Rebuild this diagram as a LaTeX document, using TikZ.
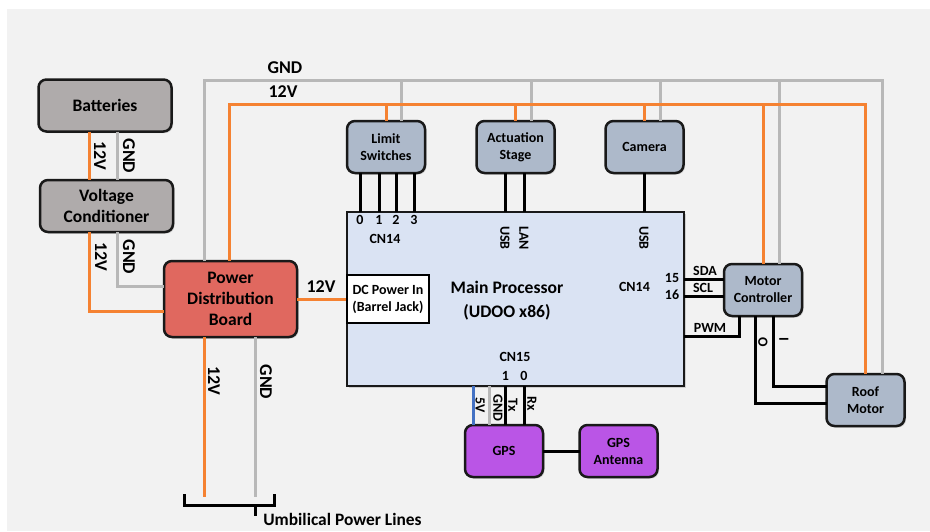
\documentclass[tikz,border=0pt]{standalone}
\usepackage{fontspec}
\setmainfont{Carlito}
\usetikzlibrary{positioning,shadows}

\definecolor{pagegray}{HTML}{F2F2F2}
\definecolor{batgray}{HTML}{AFABAB}
\definecolor{pdbred}{HTML}{E0685F}
\definecolor{nodeblue}{HTML}{ADB9CA}
\definecolor{mainblue}{HTML}{DAE3F3}
\definecolor{gpspurple}{HTML}{BA55E6}
\definecolor{vorange}{HTML}{F58232}
\definecolor{gndgray}{HTML}{B8B8B8}
\definecolor{fivevblue}{HTML}{4472C4}

\begin{document}
\begin{tikzpicture}
[
  x=1pt,
  y=-1pt,
  on grid,
  font=\bfseries\fontsize{14}{17}\selectfont,
  box/.style={draw=black!90, line width=2.5pt, rounded corners=8pt, align=center, inner sep=0pt, outer sep=0pt,
    drop shadow={shadow xshift=1.5pt, shadow yshift=-1.5pt, opacity=0.3}},
  lowbox/.style={box, fill=batgray, minimum width=133pt, minimum height=52pt, font=\bfseries\fontsize{17.5}{21}\selectfont},
  unit/.style={box, fill=nodeblue, minimum width=78pt, minimum height=52pt},
  gpsbox/.style={box, fill=gpspurple, minimum width=78pt, minimum height=52pt},
  vwire/.style={draw=vorange, line width=3pt},
  gndwire/.style={draw=gndgray, line width=3pt},
  sigwire/.style={draw=black, line width=3pt},
  lab/.style={inner sep=0pt, font=\bfseries\fontsize{14}{15}\selectfont},
  biglab/.style={inner sep=0pt, font=\bfseries\fontsize{18}{18}\selectfont},
  vlab/.style={lab, rotate=-90},
  bigvlab/.style={biglab, rotate=-90}
]
 \fill[white] (0,0) rectangle (930,531);
 \fill[pagegray] (7,9) rectangle (930,531);

 \node[box, fill=mainblue, rectangle, rounded corners=0pt, minimum width=337pt, minimum height=174pt] (main) at (515.5,299) {};
 \node[draw=black, line width=2.5pt, fill=white, minimum width=82pt, minimum height=48pt, inner sep=0pt, align=center, font=\bfseries\fontsize{14}{17}\selectfont] (dc) [left=127.5pt of main] {DC Power In\\(Barrel Jack)};
 \node[biglab, font=\bfseries\fontsize{17.6}{24}\selectfont, align=center] (title) at (507,300.5) {Main Processor\\(UDOO x86)};

 \node[box, fill=pdbred, minimum width=133pt, minimum height=76pt, font=\bfseries\fontsize{17.5}{21}\selectfont] (pdb) [left=285pt of main] {Power\\Distribution\\Board};
 \node[lowbox] (volt) [above left=93pt and 124pt of pdb] {Voltage\\Conditioner};
 \node[lowbox] (bat) [above left=100.5pt and 1.5pt of volt] {Batteries};

 \node[unit] (act) [above=152pt of main] {Actuation\\Stage};
 \node[unit] (limit) [left=129.5pt of act] {Limit\\Switches};
 \node[unit] (cam) [right=129pt of act] {Camera};
 \node[unit] (motor) [above right=9pt and 247.5pt of main] {Motor\\Controller};
 \node[unit] (roof) [below right=110pt and 102.5pt of motor] {Roof\\Motor};
 \node[gpsbox] (gps) [below left=152pt and 11.5pt of main] {GPS};
 \node[gpsbox] (ant) [right=114.5pt of gps] {GPS\\Antenna};

 \coordinate (gndL) at (204,80);
 \coordinate (gndR) at (882,80);
 \coordinate (vL) at (229,104);
 \coordinate (vR) at (865,104);
 \coordinate (brL) at (184,494);
 \coordinate (brR) at (274,494);
 \coordinate (brM) at (255,505);
 \coordinate (brS) at (255,516);
 \coordinate (umbV) at (204,497);
 \coordinate (umbG) at (255,497);

 % ground lines
 \draw[gndwire] (gndL |- pdb.north) -- (gndL) -- (gndR) -- (gndR |- roof.north);
 \draw[gndwire] ([xshift=11pt]volt.south) |- ([yshift=13pt]pdb.west);
 \path[gndwire]
    ([xshift=15.5pt]limit.north) edge ([xshift=15.5pt]limit.north |- gndL)
    ([xshift=15.5pt]act.north) edge ([xshift=15.5pt]act.north |- gndL)
    ([xshift=15.5pt]cam.north) edge ([xshift=15.5pt]cam.north |- gndL)
    ([xshift=16pt]motor.north) edge ([xshift=16pt]motor.north |- gndL)
    ([xshift=12.5pt]bat.south) edge ([xshift=11pt]volt.north)
    (umbG |- pdb.south) edge (umbG)
    ([xshift=-15pt]gps.north) edge ([xshift=-15pt]gps.north |- main.south);

 % 12V lines
 \draw[vwire] (vL |- pdb.north) -- (vL) -- (vR) -- (vR |- roof.north);
 \draw[vwire] ([xshift=-17pt]volt.south) |- ([yshift=-12pt]pdb.west);
 \path[vwire]
    (limit.north) edge (limit.north |- vL)
    (act.north) edge (act.north |- vL)
    (cam.north) edge (cam.north |- vL)
    (motor.north) edge (motor.north |- vL)
    ([xshift=-15.5pt]bat.south) edge ([xshift=-17pt]volt.north)
    (pdb.east) edge (dc.west)
    (umbV |- pdb.south) edge (umbV);
 \draw[draw=fivevblue, line width=3pt] ([xshift=-31pt]gps.north) -- ([xshift=-31pt]gps.north |- main.south);

 % signal lines
 \path[sigwire]
    ([xshift=-26pt]limit.south) edge ([xshift=-26pt]limit.south |- main.north)
    ([xshift=-7pt]limit.south) edge ([xshift=-7pt]limit.south |- main.north)
    ([xshift=10pt]limit.south) edge ([xshift=10pt]limit.south |- main.north)
    ([xshift=28pt]limit.south) edge ([xshift=28pt]limit.south |- main.north)
    ([xshift=-10pt]act.south) edge ([xshift=-10pt]act.south |- main.north)
    ([xshift=8.5pt]act.south) edge ([xshift=8.5pt]act.south |- main.north)
    (cam.south) edge (cam.south |- main.north)
    ([xshift=1.5pt]gps.north) edge ([xshift=1.5pt]gps.north |- main.south)
    ([xshift=20pt]gps.north) edge ([xshift=20pt]gps.north |- main.south)
    (gps.east) edge (ant.west)
    ([yshift=11pt]motor.west) edge ([yshift=11pt]motor.west -| main.east)
    ([yshift=-6pt]motor.west) edge ([yshift=-6pt]motor.west -| main.east);
 \draw[sigwire] ([xshift=-24pt]motor.south) |- ([yshift=-37pt]main.east);
 \draw[sigwire] ([xshift=10pt]motor.south) |- ([yshift=14pt]roof.west);
 \draw[sigwire] ([xshift=-8pt]motor.south) |- ([yshift=-3pt]roof.west);
 \draw[sigwire] (brL) |- (brM) -| (brR);
 \draw[sigwire] (brM) -- (brS);

 % labels
 \node[biglab] (lgnd) at (285,68) {GND};
 \node[biglab] (lv) at (283,92) {12V};
 \node[bigvlab] (lbatv) at (100,156) {12V};
 \node[bigvlab] (lbatg) at (129,156) {GND};
 \node[bigvlab] (lvoltv) at (101,257) {12V};
 \node[bigvlab] (lvoltg) at (129,257) {GND};
 \node[biglab] (lpdb) at (321,287) {12V};
 \node[bigvlab] (lumbv) at (214,381) {12V};
 \node[bigvlab] (lumbg) at (266,382) {GND};
 \node[biglab, font=\bfseries\fontsize{17.4}{18}\selectfont] (lumb) at (342.5,519) {Umbilical Power Lines};
 \node[lab] (lcnl) at (385,239) {CN14};
 \node[lab] (lp0) at (360,220) {0};
 \node[lab] (lp1) at (379,220) {1};
 \node[lab] (lp2) at (396,220) {2};
 \node[lab] (lp3) at (414,220) {3};
 \node[vlab] (lusba) at (505,238) {USB};
 \node[vlab] (llan) at (524,238) {LAN};
 \node[vlab] (lusbc) at (644,238) {USB};
 \node[lab] (lcnr) at (634.5,287) {CN14};
 \node[lab] (l15) at (672,278) {15};
 \node[lab] (l16) at (672,295) {16};
 \node[lab] (lsda) at (705,271) {SDA};
 \node[lab] (lscl) at (703,288) {SCL};
 \node[lab] (lpwm) at (710,328) {PWM};
 \node[vlab] (lo) at (763,342) {O};
 \node[vlab] (li) at (784,339) {I};
 \node[lab] (lcnb) at (515,357) {CN15};
 \node[lab] (lb1) at (505.5,376) {1};
 \node[lab] (lb0) at (524,376) {0};
 \node[vlab] (l5v) at (480,405) {5V};
 \node[vlab] (lgg) at (498,408) {GND};
 \node[vlab] (ltx) at (513,405) {Tx};
 \node[vlab] (lrx) at (532,404) {Rx};
\end{tikzpicture}
\end{document}
